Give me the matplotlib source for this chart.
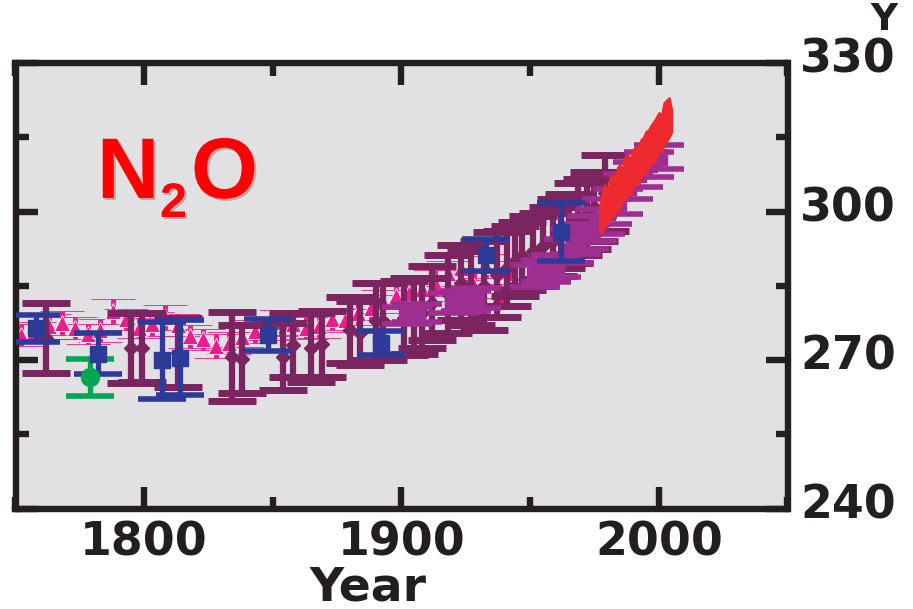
import matplotlib.pyplot as plt
import matplotlib.transforms as mtransforms
import matplotlib.patheffects as pe
from matplotlib.ticker import MultipleLocator

# pink triangles (dense record)
pink_year = [1752, 1757, 1763, 1768, 1773, 1778, 1783, 1788, 1793, 1798, 1803,
             1808, 1813, 1818, 1823, 1828, 1833, 1838, 1843, 1848, 1853, 1858,
             1863, 1868, 1873, 1878, 1883, 1888, 1893, 1898, 1903, 1908, 1913,
             1918, 1923, 1928, 1933, 1938, 1943]
pink_val = [275.0, 275.6, 276.8, 277.5, 276.4, 275.2, 276.0, 279.8, 278.2, 276.5,
            277.2, 278.6, 277.0, 274.8, 274.2, 272.8, 273.5, 274.6, 275.8, 276.3,
            277.6, 277.2, 276.4, 276.8, 278.3, 278.0, 279.5, 280.6, 281.8, 283.0,
            283.5, 284.4, 285.6, 287.5, 288.6, 285.0, 289.0, 283.0, 287.5]
pink_err = [2.2, 2.0, 2.5, 2.4, 2.2, 2.0, 2.3, 2.6, 2.2, 2.0, 2.4, 2.5, 2.2,
            2.3, 2.1, 2.4, 2.2, 2.0, 2.3, 2.2, 2.5, 2.3, 2.2, 2.4, 2.2, 2.3,
            2.4, 2.5, 2.4, 2.6, 2.5, 2.4, 2.6, 2.5, 2.4, 2.5, 2.5, 2.4, 2.5]

# dark purple diamonds (firn / ice core)
dpur_year = [1762, 1795, 1799, 1813, 1834, 1838, 1854, 1858, 1865, 1869, 1880,
             1884, 1890, 1893, 1901, 1905, 1908, 1912, 1918, 1923, 1927, 1932,
             1937, 1941, 1944, 1947, 1951, 1955, 1959, 1962, 1965, 1968.5, 1972,
             1975, 1979]
dpur_val = [274.4, 272.4, 272.5, 271.5, 270.7, 270.2, 270.7, 273.0, 272.5, 273.2,
            276.0, 275.5, 277.8, 277.8, 278.5, 278.9, 279.5, 281.5, 283.3, 285.6,
            284.5, 285.0, 287.2, 288.5, 290.0, 291.0, 292.0, 293.0, 294.0, 295.5,
            296.5, 298.5, 299.5, 301.0, 303.7]
dpur_err = [7.1, 7.0, 7.0, 7.0, 8.9, 6.8, 6.7, 6.5, 7.0, 6.7, 6.7, 6.5, 7.7,
            7.8, 7.5, 7.6, 7.0, 7.5, 7.9, 7.6, 7.5, 9.0, 8.6, 7.5, 7.0, 6.8,
            7.0, 6.7, 7.0, 7.0, 7.0, 7.2, 7.0, 7.0, 7.7]

# medium purple squares
mpur_year = [1902, 1906, 1920, 1925, 1929, 1952, 1956, 1960, 1965, 1968, 1971,
             1974, 1977, 1980, 1984, 1988, 1992, 1996, 2000]
mpur_val = [279.0, 279.5, 281.5, 282.0, 282.5, 287.0, 288.0, 289.0, 292.0, 294.0,
            295.0, 296.5, 298.0, 300.0, 302.0, 305.0, 307.5, 309.5, 311.0]
mpur_err = [1.8, 1.8, 2.0, 2.0, 2.0, 2.2, 2.2, 2.2, 2.5, 2.5, 2.5, 2.5, 2.5,
            2.5, 2.5, 2.5, 2.5, 2.5, 2.5]

# blue squares
blue_year = [1758, 1782, 1807, 1814, 1848, 1892, 1933, 1962]
blue_val = [276.4, 271.3, 269.9, 270.5, 275.0, 273.4, 291.2, 295.8]
blue_err = [2.7, 4.2, 7.7, 7.6, 3.2, 2.4, 3.2, 5.9]

# green circle
green_year = [1779]
green_val = [266.5]
green_err = [3.7]

# red atmospheric record (band)
red_year = [1977, 1978, 1979, 1980, 1981, 1982, 1983, 1984, 1985, 1986, 1987,
            1988, 1989, 1990, 1991, 1992, 1993, 1994, 1995, 1996, 1997, 1998,
            1999, 2000, 2001, 2002, 2003, 2004, 2005]
red_lo = [296.0, 295.8, 297.0, 297.5, 298.6, 298.8, 300.2, 299.8, 301.0, 302.2,
          302.5, 303.6, 303.4, 305.0, 305.6, 305.4, 307.0, 307.8, 307.5, 309.0,
          310.0, 309.6, 311.2, 312.0, 312.2, 313.5, 314.2, 315.0, 316.0]
red_hi = [300.5, 304.0, 305.5, 303.5, 307.0, 307.5, 306.5, 309.0, 309.5, 308.5,
          311.2, 311.5, 310.5, 312.5, 313.2, 312.6, 314.5, 315.0, 316.2, 316.5,
          317.5, 318.2, 319.0, 320.0, 319.5, 322.0, 322.5, 323.0, 320.5]

plt.rcParams['font.family'] = 'DejaVu Sans'

fig = plt.figure(figsize=(9.13, 6.09), dpi=100)
ax = fig.add_axes([15.5 / 913, 1 - 508.5 / 609, (787.5 - 15.5) / 913, (508.5 - 63) / 609])
ax.set_facecolor('#e1e1e3')

ax.errorbar(pink_year, pink_val, yerr=pink_err, fmt='^', color='#ec1c8c',
            ms=12, mec='white', mew=0.6, elinewidth=3.5, capsize=16, capthick=4, zorder=2)
ax.errorbar(dpur_year, dpur_val, yerr=dpur_err, fmt='D', color='#7a2460',
            ms=7, elinewidth=4.5, capsize=17, capthick=5, zorder=3)
ax.errorbar(mpur_year, mpur_val, yerr=mpur_err, fmt='s', color='#9e2f91',
            ms=12, elinewidth=4, capsize=18, capthick=4, zorder=4)
ax.errorbar(blue_year, blue_val, yerr=blue_err, fmt='s', color='#2e3a98',
            ms=11, elinewidth=3.8, capsize=17, capthick=4, zorder=5)
ax.errorbar(green_year, green_val, yerr=green_err, fmt='o', color='#00a651',
            ms=13, elinewidth=3.8, capsize=17, capthick=4, zorder=5)
ax.fill_between(red_year, red_lo, red_hi, color='#ee2a2f', lw=1.5,
                edgecolor='#ee2a2f', zorder=6)

ax.set_xlim(1750, 2050)
ax.set_ylim(240, 330)
ax.xaxis.set_major_locator(MultipleLocator(100))
ax.xaxis.set_minor_locator(MultipleLocator(50))
ax.yaxis.set_major_locator(MultipleLocator(30))
ax.yaxis.set_minor_locator(MultipleLocator(15))

for s in ax.spines.values():
    s.set_linewidth(4.6)
    s.set_color('#231f20')
ax.tick_params(which='both', direction='in', top=True, right=True,
               labelleft=False, labelright=True, color='#231f20', width=4.6)
ax.tick_params(which='major', length=16, pad=9)
ax.tick_params(which='minor', length=9)
ax.tick_params(labelsize=33, labelcolor='#231f20')

# right-hand labels sit a little above their ticks in the original
up = mtransforms.ScaledTranslation(0, 8 / 100, fig.dpi_scale_trans)
for t in ax.yaxis.get_major_ticks():
    t.label2.set_fontweight('bold')
    t.label2.set_transform(t.label2.get_transform() + up)
for t in ax.xaxis.get_major_ticks():
    t.label1.set_fontweight('bold')

ax.set_xlabel('Year', fontsize=34, fontweight='bold', color='#231f20')
ax.xaxis.set_label_coords((368 - 15.5) / 772, -0.127)

shadow = [pe.SimplePatchShadow(offset=(1.5, -1.5), alpha=0.25), pe.Normal()]
fig.text(97 / 913, 1 - 198 / 609, 'N', fontsize=62, fontweight='bold',
         family='Liberation Sans', color='#ff0000', va='baseline', path_effects=shadow)
fig.text(160 / 913, 1 - 217 / 609, '2', fontsize=35, fontweight='bold',
         family='Liberation Sans', color='#ff0000', va='baseline', path_effects=shadow)
fig.text(191 / 913, 1 - 198 / 609, 'O', fontsize=62, fontweight='bold',
         family='Liberation Sans', color='#ff0000', va='baseline', path_effects=shadow)

fig.text(870 / 913, 1 - 2 / 609, 'Y', fontsize=27, fontweight='bold',
         color='#231f20', va='top')

plt.savefig('out.png', dpi=100)
